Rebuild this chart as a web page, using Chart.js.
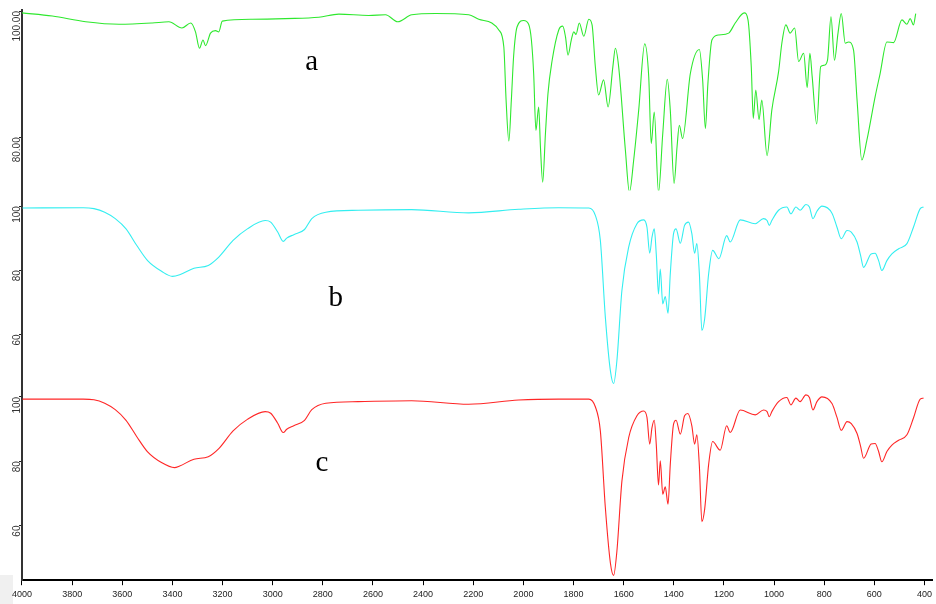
<!DOCTYPE html>
<html lang="en">
<head>
  <meta charset="UTF-8">
  <title>IR spectra a, b, c</title>
  <script src="https://cdn.jsdelivr.net/npm/chart.js"></script>
  <style>
    html, body { margin: 0; padding: 0; background: #fff; }
    #wrap { position: relative; width: 936px; height: 604px; }
    #corner { position: absolute; left: 0; top: 575px; width: 13px; height: 29px; background: #f0f0f0; }
    #spectra { position: relative; }
  </style>
</head>
<body>
<div id="wrap">
  <div id="corner"></div>
  <canvas id="spectra"></canvas>
</div>

<script>
// wavenumbers (cm-1) and transmittance (%)
const wavenumbersA = [4000,3879,3746,3613,3481,3414,3362,3327,3308,3292,
  3278,3268,3248,3228,3215,3201,3082,2949,2816,2736,
  2617,2550,2501,2445,2351,2218,2178,2126,2098,2078,
  2069,2058,2048,2039,2025,1999,1979,1968,1959,1950,
  1939,1932,1923,1912,1902,1886,1859,1843,1832,1822,
  1809,1799,1790,1777,1759,1739,1726,1713,1700,1680,
  1662,1643,1633,1620,1593,1577,1560,1540,1516,1500,
  1490,1478,1461,1444,1426,1414,1399,1387,1378,1365,
  1334,1298,1285,1274,1264,1248,1221,1181,1155,1119,
  1104,1091,1083,1073,1060,1049,1028,1009,982,969,
  953,936,918,902,882,868,857,848,830,814,
  801,787,773,759,745,732,716,703,683,669,
  650,630,597,577,550,523,490,470,457,444,
  435];
const transmittanceA = [99.7,99.2,98.3,97.9,98.1,98.3,97.3,98.1,96.7,94.1,
  95.4,94.5,96.5,96.9,96.7,98.4,98.7,98.8,99.0,99.5,
  99.3,99.4,98.3,99.4,99.6,99.4,98.7,98.1,97.0,94.3,
  85.9,79.4,85.9,92.8,97.5,98.5,97.9,95.4,90.1,81.1,
  84.8,78.5,72.9,80.6,86.9,92.0,97.0,97.6,95.9,93.0,
  95.4,96.7,96.3,98.1,96.0,98.7,97.8,91.2,86.7,89.1,
  84.8,91.2,94.1,91.2,77.9,71.3,76.4,84.3,94.8,89.6,
  79.0,84.0,71.3,80.6,89.2,84.3,72.7,78.5,81.9,79.8,
  90.1,93.9,89.1,81.4,88.5,95.4,96.2,96.5,98.1,99.7,
  98.6,91.2,83.0,87.5,82.8,85.9,77.1,84.3,90.4,94.9,
  97.8,96.5,97.3,92.0,93.3,87.9,93.3,89.6,82.1,91.2,
  91.4,92.2,99.1,92.2,96.5,99.6,94.9,95.1,93.8,85.9,
  76.4,79.5,86.4,90.1,95.1,95.0,98.6,97.9,98.8,97.8,
  99.6];

const wavenumbersB = [3998,3756,3713,3670,3628,3585,3542,3499,3442,3400,
  3371,3314,3257,3215,3158,3101,3030,3008,2980,2958,
  2944,2916,2873,2844,2788,2659,2446,2218,2019,1859,
  1739,1713,1693,1673,1653,1640,1627,1607,1580,1547,
  1520,1507,1496,1487,1478,1470,1461,1454,1444,1434,
  1423,1414,1401,1391,1374,1357,1341,1328,1317,1308,
  1298,1288,1277,1261,1245,1220,1189,1175,1135,1075,
  1042,1028,1019,1009,982,949,933,913,896,873,
  859,845,829,809,769,749,732,709,692,669,
  655,643,613,597,583,570,550,530,503,470,
  444,417,404];
const transmittanceB = [99.4,99.5,99.2,98.1,96.1,92.9,87.7,83.0,79.6,78.1,
  78.6,80.6,81.5,84.1,89.3,92.9,95.5,95.0,91.9,89.0,
  90.0,91.1,92.7,96.1,98.1,98.7,98.9,97.9,99.0,99.5,
  99.4,97.1,89.3,65.3,48.7,44.7,51.8,73.7,87.2,94.5,
  95.7,93.4,85.3,90.3,92.9,85.1,72.6,80.4,69.5,71.8,
  66.6,78.9,91.4,92.9,88.4,94.0,95.0,91.4,85.3,88.3,
  78.9,61.2,64.8,78.9,86.2,83.6,90.8,88.8,95.7,94.5,
  96.1,95.5,94.0,95.5,98.7,99.7,97.6,99.7,98.7,100.5,
  99.7,96.1,98.4,100.0,97.8,93.4,89.8,92.4,91.9,88.8,
  84.6,80.9,85.1,85.3,83.0,79.9,83.0,85.1,86.7,88.3,
  93.4,99.2,99.7];

const wavenumbersC = [3998,3756,3713,3670,3628,3585,3542,3499,3442,3392,
  3371,3314,3257,3215,3158,3101,3030,3008,2980,2958,
  2944,2916,2873,2844,2788,2659,2446,2218,2019,1859,
  1739,1713,1693,1673,1653,1640,1627,1607,1580,1547,
  1520,1507,1496,1487,1478,1470,1461,1454,1444,1434,
  1423,1414,1401,1391,1374,1357,1344,1328,1317,1308,
  1298,1288,1277,1261,1245,1215,1189,1175,1135,1075,
  1042,1028,1019,1009,982,949,933,913,896,873,
  859,845,829,809,769,749,732,709,692,669,
  655,643,613,597,583,570,550,530,503,470,
  444,417,404];
const transmittanceC = [99.3,99.3,99.1,98.0,96.0,92.7,87.6,82.9,79.5,78.0,
  78.5,80.6,81.4,83.9,89.4,93.0,95.4,94.9,91.8,88.9,
  89.9,91.0,92.7,96.0,98.0,98.5,98.8,97.7,99.0,99.3,
  99.3,96.9,89.4,65.5,48.4,44.5,52.0,73.8,87.3,94.1,
  95.6,93.6,85.3,90.4,92.7,85.3,72.6,80.1,69.7,72.0,
  66.6,79.0,91.5,92.7,88.4,94.1,94.8,91.0,85.3,88.2,
  78.5,61.2,65.0,79.0,86.1,83.4,91.0,88.9,95.9,94.4,
  95.9,95.4,93.8,95.4,98.5,99.8,97.5,99.6,98.5,100.6,
  99.8,95.9,98.5,100.0,97.9,93.6,89.6,92.3,91.7,88.6,
  84.7,80.9,85.3,85.5,83.0,79.8,83.0,85.0,86.5,88.2,
  93.4,99.3,99.6];

const curveNames = ['a', 'b', 'c'];

// tick labels
const xTicks = [4000,3800,3600,3400,3200,3000,2800,2600,2400,2200,2000,1800,1600,1400,1200,1000,800,600,400];
const yTicksA = [80, 100];
const yTicksB = [60, 80, 100];
const yTicksC = [60, 80, 100];

function points(xs, ys) {
  return xs.map((x, i) => ({ x: x, y: ys[i] }));
}

const tickFont = { family: '"Liberation Sans", Arial, sans-serif', size: 10 };

function yScale(weight, min, max, ticks, decimals) {
  return {
    type: 'linear',
    position: 'left',
    stack: 'ir',
    stackWeight: weight,
    min: min,
    max: max,
    afterBuildTicks: s => { s.ticks = ticks.map(v => ({ value: v })); },
    ticks: {
      minRotation: 90,
      maxRotation: 90,
      padding: 2,
      color: '#333',
      font: tickFont,
      callback: v => v.toFixed(decimals)
    },
    grid: { drawOnChartArea: false, tickLength: 3, color: '#222' },
    border: { color: '#333', width: 2 }
  };
}

const curveLabelPlugin = {
  id: 'curveLabels',
  afterDatasetsDraw(chart) {
    const { ctx, scales } = chart;
    const spots = [[2844, 90.6, 'yA'], [2748, 69.0, 'yB'], [2804, 76.9, 'yC']];
    ctx.save();
    ctx.font = '29px "Liberation Serif", "Times New Roman", serif';
    ctx.fillStyle = '#000';
    ctx.textAlign = 'center';
    ctx.textBaseline = 'alphabetic';
    curveNames.forEach((name, i) => {
      const [w, v, id] = spots[i];
      ctx.fillText(name, scales.x.getPixelForValue(w), scales[id].getPixelForValue(v));
    });
    ctx.restore();
  }
};

const lineStyle = { borderWidth: 1.1, pointRadius: 0, cubicInterpolationMode: 'monotone', fill: false };

new Chart(document.getElementById('spectra'), {
  type: 'line',
  data: {
    datasets: [
      Object.assign({ label: curveNames[0], data: points(wavenumbersA, transmittanceA), borderColor: '#2ee82e', yAxisID: 'yA' }, lineStyle),
      Object.assign({ label: curveNames[1], data: points(wavenumbersB, transmittanceB), borderColor: '#33eef0', yAxisID: 'yB' }, lineStyle),
      Object.assign({ label: curveNames[2], data: points(wavenumbersC, transmittanceC), borderColor: '#ff2626', yAxisID: 'yC' }, lineStyle)
    ]
  },
  options: {
    responsive: true,
    maintainAspectRatio: false,
    animation: false,
    parsing: false,
    layout: { padding: { left: 3, top: 10, right: 0, bottom: 0 } },
    plugins: { legend: { display: false }, tooltip: { enabled: false } },
    scales: {
      x: {
        type: 'linear',
        reverse: true,
        min: 370,
        max: 4000,
        afterBuildTicks: s => { s.ticks = xTicks.map(v => ({ value: v })); },
        ticks: {
          maxRotation: 0,
          autoSkip: false,
          padding: 4,
          color: '#222',
          font: { family: '"Liberation Sans", Arial, sans-serif', size: 9 },
          callback: v => String(v)
        },
        grid: { drawOnChartArea: false, tickLength: 5, color: '#000' },
        border: { color: '#000', width: 2 }
      },
      // stacked scales are laid out bottom-up in definition order
      yC: yScale(194, 43.0, 103.43, yTicksC, 0),
      yB: yScale(195, 43.97, 104.9, yTicksB, 0),
      yA: yScale(180, 71.59, 100.16, yTicksA, 2)
    }
  },
  plugins: [curveLabelPlugin]
});
</script>
</body>
</html>
